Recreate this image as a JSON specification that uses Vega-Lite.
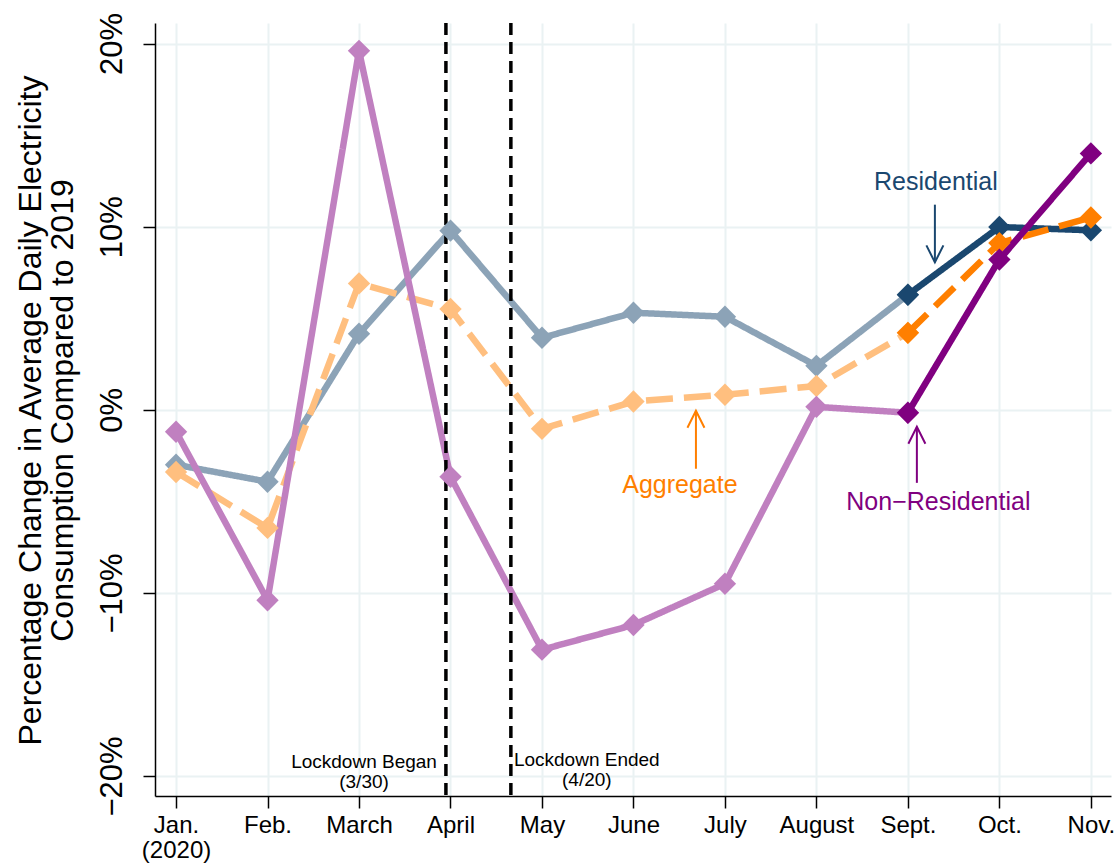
{
  "$schema": "https://vega.github.io/schema/vega-lite/v6.json",
  "autosize": {"type": "none"},
  "padding": {"left": 155, "top": 23, "right": 8, "bottom": 67},
  "width": 956,
  "height": 773,
  "background": "white",
  "config": {"view": {"stroke": null}, "font": "Liberation Sans"},
  "datasets": {
    "series": [
      {"series": "Residential", "period": "Jan-Sept", "month": 1, "pct": -3.0},
      {"series": "Residential", "period": "Jan-Sept", "month": 2, "pct": -3.93},
      {"series": "Residential", "period": "Jan-Sept", "month": 3, "pct": 4.15},
      {"series": "Residential", "period": "Jan-Sept", "month": 4, "pct": 9.78},
      {"series": "Residential", "period": "Jan-Sept", "month": 5, "pct": 3.93},
      {"series": "Residential", "period": "Jan-Sept", "month": 6, "pct": 5.3},
      {"series": "Residential", "period": "Jan-Sept", "month": 7, "pct": 5.08},
      {"series": "Residential", "period": "Jan-Sept", "month": 8, "pct": 2.4},
      {"series": "Residential", "period": "Jan-Sept", "month": 9, "pct": 6.28},
      {"series": "Aggregate", "period": "Jan-Sept", "month": 1, "pct": -3.4},
      {"series": "Aggregate", "period": "Jan-Sept", "month": 2, "pct": -6.45},
      {"series": "Aggregate", "period": "Jan-Sept", "month": 3, "pct": 6.9},
      {"series": "Aggregate", "period": "Jan-Sept", "month": 4, "pct": 5.5},
      {"series": "Aggregate", "period": "Jan-Sept", "month": 5, "pct": -1.04},
      {"series": "Aggregate", "period": "Jan-Sept", "month": 6, "pct": 0.45},
      {"series": "Aggregate", "period": "Jan-Sept", "month": 7, "pct": 0.82},
      {"series": "Aggregate", "period": "Jan-Sept", "month": 8, "pct": 1.3},
      {"series": "Aggregate", "period": "Jan-Sept", "month": 9, "pct": 4.2},
      {"series": "Non-Residential", "period": "Jan-Sept", "month": 1, "pct": -1.2},
      {"series": "Non-Residential", "period": "Jan-Sept", "month": 2, "pct": -10.4},
      {"series": "Non-Residential", "period": "Jan-Sept", "month": 3, "pct": 19.6},
      {"series": "Non-Residential", "period": "Jan-Sept", "month": 4, "pct": -3.66},
      {"series": "Non-Residential", "period": "Jan-Sept", "month": 5, "pct": -13.1},
      {"series": "Non-Residential", "period": "Jan-Sept", "month": 6, "pct": -11.75},
      {"series": "Non-Residential", "period": "Jan-Sept", "month": 7, "pct": -9.5},
      {"series": "Non-Residential", "period": "Jan-Sept", "month": 8, "pct": 0.16},
      {"series": "Non-Residential", "period": "Jan-Sept", "month": 9, "pct": -0.16},
      {"series": "Residential", "period": "Sept-Nov", "month": 9, "pct": 6.28},
      {"series": "Residential", "period": "Sept-Nov", "month": 10, "pct": 9.98},
      {"series": "Residential", "period": "Sept-Nov", "month": 11, "pct": 9.8},
      {"series": "Aggregate", "period": "Sept-Nov", "month": 9, "pct": 4.2},
      {"series": "Aggregate", "period": "Sept-Nov", "month": 10, "pct": 9.1},
      {"series": "Aggregate", "period": "Sept-Nov", "month": 11, "pct": 10.5},
      {"series": "Non-Residential", "period": "Sept-Nov", "month": 9, "pct": -0.16},
      {"series": "Non-Residential", "period": "Sept-Nov", "month": 10, "pct": 8.2},
      {"series": "Non-Residential", "period": "Sept-Nov", "month": 11, "pct": 14.0}
    ],
    "lockdown": [
      {"event": "Lockdown Began", "at": 3.95, "label": "Lockdown Began\n(3/30)", "lx": 3.055, "ly": -19.55},
      {"event": "Lockdown Ended", "at": 4.66, "label": "Lockdown Ended\n(4/20)", "lx": 5.49, "ly": -19.45}
    ],
    "notes": [
      {"series": "Residential", "label": "Residential", "tx": 9.306, "ty": 12.0, "x1": 9.295, "y1": 11.2, "x2": 9.295, "y2": 8.05},
      {"series": "Aggregate", "label": "Aggregate", "tx": 6.508, "ty": -4.54, "x1": 6.683, "y1": -3.22, "x2": 6.683, "y2": -0.05},
      {"series": "Non-Residential", "label": "Non−Residential", "tx": 9.333, "ty": -5.46, "x1": 9.098, "y1": -3.99, "x2": 9.098, "y2": -0.93}
    ]
  },
  "resolve": {"scale": {"color": "independent"}},
  "layer": [
    {
      "data": {"name": "series"},
      "transform": [{"filter": "datum.period == 'Jan-Sept'"}],
      "mark": {"type": "line", "strokeWidth": 6.5, "strokeCap": "butt"},
      "encoding": {
        "x": {
          "field": "month", "type": "quantitative",
          "scale": {"domain": [0.77, 11.22], "nice": false, "zero": false},
          "axis": {
            "title": null,
            "values": [1, 2, 3, 4, 5, 6, 7, 8, 9, 10, 11],
            "labelExpr": "datum.value == 1 ? ['Jan.', '(2020)'] : ['', 'Jan.', 'Feb.', 'March', 'April', 'May', 'June', 'July', 'August', 'Sept.', 'Oct.', 'Nov.'][datum.value]",
            "labelFontSize": 24,
            "labelLineHeight": 25,
            "labelColor": "black",
            "labelBaseline": "top",
            "labelPadding": 5,
            "labelFlush": false,
            "labelOverlap": false,
            "tickSize": 12,
            "tickColor": "black",
            "tickWidth": 1.5,
            "domainColor": "black",
            "domainWidth": 1.5,
            "grid": true,
            "gridColor": "#eaf2f3",
            "gridWidth": 2
          }
        },
        "y": {
          "field": "pct", "type": "quantitative",
          "scale": {"domain": [-21.09, 21.12], "nice": false, "zero": false},
          "axis": {
            "values": [-20, -10, 0, 10, 20],
            "labelExpr": "(datum.value < 0 ? '−' + abs(datum.value) : '' + datum.value) + '%'",
            "labelAngle": -90,
            "labelAlign": "center",
            "labelBaseline": "alphabetic",
            "labelFontSize": 31,
            "labelColor": "black",
            "labelPadding": 22,
            "tickSize": 12,
            "tickColor": "black",
            "tickWidth": 1.5,
            "domainColor": "black",
            "domainWidth": 1.5,
            "grid": true,
            "gridColor": "#eaf2f3",
            "gridWidth": 2,
            "title": ["Percentage Change in Average Daily Electricity", "Consumption Compared to 2019"],
            "titleFontSize": 32,
            "titleFontWeight": "normal",
            "titleColor": "black",
            "titleAngle": -90,
            "titleAlign": "center",
            "titleBaseline": "middle",
            "titleLineHeight": 32,
            "titleX": -125,
            "titleY": 387
          }
        },
        "color": {"field": "series", "type": "nominal", "scale": {"domain": ["Residential", "Aggregate", "Non-Residential"], "range": ["#8ca3b7", "#ffbf7f", "#c080c0"]}, "legend": null},
        "strokeDash": {"field": "series", "type": "nominal", "scale": {"domain": ["Residential", "Aggregate", "Non-Residential"], "range": [[1, 0], [27, 11], [1, 0]]}, "legend": null}
      }
    },
    {
      "data": {"name": "lockdown"},
      "mark": {"type": "rule", "color": "black", "strokeWidth": 3.5, "strokeDash": [12, 7]},
      "encoding": {
        "x": {"field": "at", "type": "quantitative"}
      }
    },
    {
      "data": {"name": "lockdown"},
      "mark": {"type": "text", "lineBreak": "\n", "fontSize": 19, "lineHeight": 20, "align": "center", "baseline": "alphabetic", "color": "black"},
      "encoding": {
        "x": {"field": "lx", "type": "quantitative"},
        "y": {"field": "ly", "type": "quantitative"},
        "text": {"field": "label"}
      }
    },
    {
      "data": {"name": "series"},
      "transform": [{"filter": "datum.period == 'Jan-Sept'"}],
      "mark": {"type": "point", "shape": "diamond", "filled": true, "size": 500, "opacity": 1},
      "encoding": {
        "x": {"field": "month", "type": "quantitative"},
        "y": {"field": "pct", "type": "quantitative"},
        "color": {"field": "series", "type": "nominal", "scale": {"domain": ["Residential", "Aggregate", "Non-Residential"], "range": ["#8ca3b7", "#ffbf7f", "#c080c0"]}, "legend": null}
      }
    },
    {
      "data": {"name": "series"},
      "transform": [{"filter": "datum.period == 'Sept-Nov'"}],
      "mark": {"type": "line", "strokeWidth": 6.5, "strokeCap": "butt"},
      "encoding": {
        "x": {"field": "month", "type": "quantitative"},
        "y": {"field": "pct", "type": "quantitative"},
        "color": {"field": "series", "type": "nominal", "scale": {"domain": ["Residential", "Aggregate", "Non-Residential"], "range": ["#1a476f", "#ff7f00", "#800080"]}, "legend": null},
        "strokeDash": {"field": "series", "type": "nominal", "scale": {"domain": ["Residential", "Aggregate", "Non-Residential"], "range": [[1, 0], [27, 11], [1, 0]]}, "legend": null}
      }
    },
    {
      "data": {"name": "series"},
      "transform": [{"filter": "datum.period == 'Sept-Nov'"}],
      "mark": {"type": "point", "shape": "diamond", "filled": true, "size": 500, "opacity": 1},
      "encoding": {
        "x": {"field": "month", "type": "quantitative"},
        "y": {"field": "pct", "type": "quantitative"},
        "color": {"field": "series", "type": "nominal", "scale": {"domain": ["Residential", "Aggregate", "Non-Residential"], "range": ["#1a476f", "#ff7f00", "#800080"]}, "legend": null}
      }
    },
    {
      "data": {"name": "notes"},
      "mark": {"type": "rule", "strokeWidth": 2},
      "encoding": {
        "x": {"field": "x1", "type": "quantitative"},
        "y": {"field": "y1", "type": "quantitative"},
        "x2": {"field": "x2"},
        "y2": {"field": "y2"},
        "color": {"field": "series", "type": "nominal", "scale": {"domain": ["Residential", "Aggregate", "Non-Residential"], "range": ["#1a476f", "#ff7f00", "#800080"]}, "legend": null}
      }
    },
    {
      "data": {"name": "notes"},
      "transform": [{"filter": "datum.y2 < datum.y1"}],
      "mark": {"type": "point", "shape": "M-0.5,-1L0,0L0.5,-1", "filled": false, "strokeWidth": 2, "size": 1156, "opacity": 1},
      "encoding": {
        "x": {"field": "x2", "type": "quantitative"},
        "y": {"field": "y2", "type": "quantitative"},
        "color": {"field": "series", "type": "nominal", "scale": {"domain": ["Residential", "Aggregate", "Non-Residential"], "range": ["#1a476f", "#ff7f00", "#800080"]}, "legend": null}
      }
    },
    {
      "data": {"name": "notes"},
      "transform": [{"filter": "datum.y2 > datum.y1"}],
      "mark": {"type": "point", "shape": "M-0.5,1L0,0L0.5,1", "filled": false, "strokeWidth": 2, "size": 1156, "opacity": 1},
      "encoding": {
        "x": {"field": "x2", "type": "quantitative"},
        "y": {"field": "y2", "type": "quantitative"},
        "color": {"field": "series", "type": "nominal", "scale": {"domain": ["Residential", "Aggregate", "Non-Residential"], "range": ["#1a476f", "#ff7f00", "#800080"]}, "legend": null}
      }
    },
    {
      "data": {"name": "notes"},
      "mark": {"type": "text", "fontSize": 25, "align": "center", "baseline": "alphabetic"},
      "encoding": {
        "x": {"field": "tx", "type": "quantitative"},
        "y": {"field": "ty", "type": "quantitative"},
        "text": {"field": "label"},
        "color": {"field": "series", "type": "nominal", "scale": {"domain": ["Residential", "Aggregate", "Non-Residential"], "range": ["#1a476f", "#ff7f00", "#800080"]}, "legend": null}
      }
    }
  ]
}
